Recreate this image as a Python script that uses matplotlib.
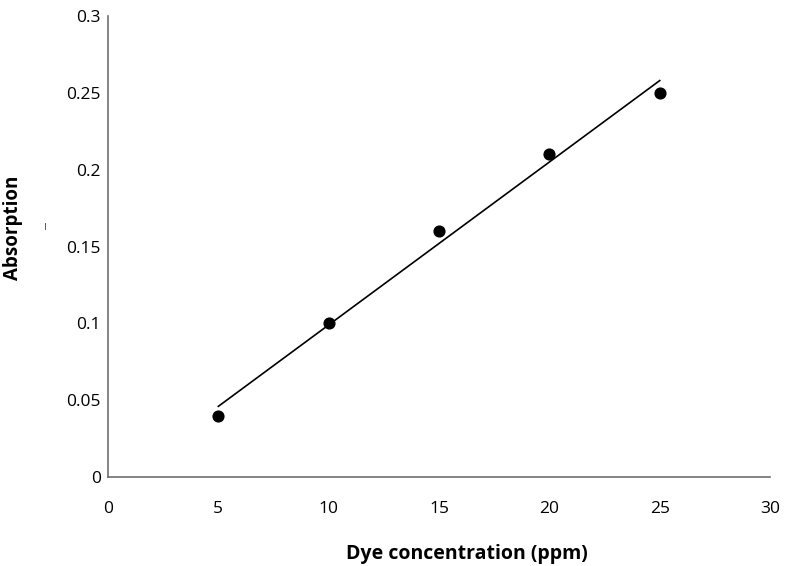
import matplotlib.pyplot as plt
import numpy as np

# calibration data
conc = [5, 10, 15, 20, 25]
absorb = [0.04, 0.10, 0.16, 0.21, 0.25]
xticks = [0, 5, 10, 15, 20, 25, 30]
yticks = [0, 0.05, 0.1, 0.15, 0.2, 0.25, 0.3]
ytick_labels = ['0', '0.05', '0.1', '0.15', '0.2', '0.25', '0.3']

plt.rcParams['font.family'] = ['Open Sans', 'DejaVu Sans']

fig = plt.figure(figsize=(7.85, 5.66), dpi=100)
ax = fig.add_axes([0.1376, 0.1572, 0.8434, 0.8145])

# linear trend line over data range
k, b = np.polyfit(conc, absorb, 1)
xs = np.array([conc[0], conc[-1]])
ax.plot(xs, k * xs + b, color='black', lw=1.2)
ax.scatter(conc, absorb, color='black', s=60, zorder=3)

ax.set_xlim(0, 30)
ax.set_ylim(0, 0.3)
ax.set_xticks(xticks)
ax.set_yticks(yticks)
ax.set_yticklabels(ytick_labels)
ax.tick_params(length=0, labelsize=12.5)
ax.tick_params(axis='y', pad=5)
ax.tick_params(axis='x', pad=17)

for s in ['top', 'right']:
    ax.spines[s].set_visible(False)
for s in ['left', 'bottom']:
    ax.spines[s].set_color('#6e6e6e')
    ax.spines[s].set_linewidth(1.2)

ax.set_xlabel('Dye concentration (ppm)', fontsize=14, fontweight='bold')
ax.xaxis.set_label_coords(0.542, -0.145)
fig.text(13 / 785, 1 - 228 / 566, 'Absorption', rotation=90, fontsize=13.5,
         fontweight='bold', ha='center', va='center')
fig.text(45 / 785, 1 - 226 / 566, '|', fontsize=6,
         ha='center', va='center')

plt.savefig('out.png')
